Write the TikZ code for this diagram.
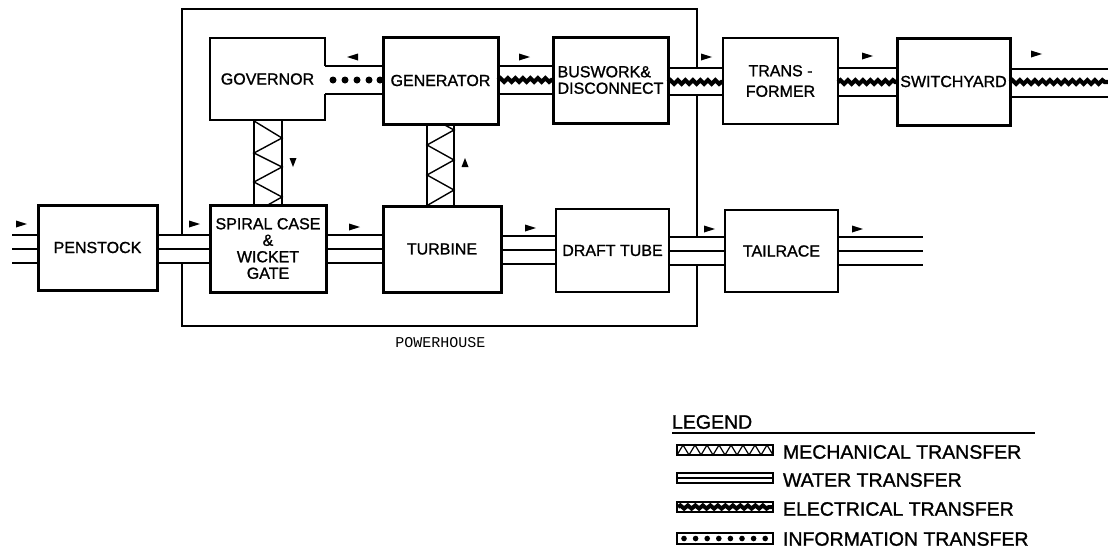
\documentclass[tikz,border=0pt]{standalone}
\usepackage{fontspec}
\setmainfont{Liberation Sans}[BoldFont={Liberation Sans}, BoldFeatures={FakeBold=1.2}]
\newfontfamily\phfont{Liberation Mono}
\usetikzlibrary{decorations.pathmorphing,backgrounds,calc}
\newcommand{\arR}[2]{\fill (#1,#2) -- ++(-11,-3.5) -- ++(0,7) -- cycle;}
\newcommand{\arL}[2]{\fill (#1,#2) -- ++(11,-3.5) -- ++(0,7) -- cycle;}
\begin{document}
\begin{tikzpicture}[x=1pt,y=-1pt,
  every node/.style={inner sep=0pt, outer sep=0pt, font=\bfseries\fontsize{16}{16.5}\selectfont},
  thinbox/.style={draw, fill=white, line width=1.4pt, align=center},
  midbox/.style={draw, fill=white, line width=2.2pt, align=center},
  thickbox/.style={draw, fill=white, line width=3pt, align=center},
  pipe/.style={line width=1.4pt},
  elec/.style={line width=4.2pt, decorate, decoration={snake, amplitude=1.8pt, segment length=7.5pt}},
  mech/.style={line width=1.4pt},
  legtext/.style={anchor=west, font=\bfseries\fontsize{19.5}{20}\selectfont},
]
\useasboundingbox (0,0) rectangle (1108,552);

% ---------- boxes ----------
\node[fill=white, minimum width=115pt, minimum height=82pt] (gov) at (267.5,79) {GOVERNOR};
\node[thickbox, minimum width=115pt, minimum height=87pt] (gen) at (440.5,80.5) {GENERATOR};
\node[thickbox, minimum width=115pt, minimum height=86pt, align=left] (bus) at (610.5,80) {BUSWORK\&\\DISCONNECT};
\node[midbox, minimum width=115pt, minimum height=86pt] (trans) at (780.5,81) {TRANS -\\[4pt]FORMER};
\node[thickbox, minimum width=113pt, minimum height=87pt] (sw) at (953.5,81.5) {SWITCHYARD};

\node[thickbox, minimum width=119pt, minimum height=85pt] (pen) at (97.5,247.5) {PENSTOCK};
\node[thickbox, minimum width=116pt, minimum height=87pt] (spi) at (268,248.5) {SPIRAL CASE\\\&\\WICKET\\GATE};
\node[thickbox, minimum width=118pt, minimum height=86pt] (turb) at (442,249) {TURBINE};
\node[thinbox, minimum width=113pt, minimum height=83pt] (draft) at (612.5,250.5) {DRAFT TUBE};
\node[thinbox, minimum width=113pt, minimum height=82pt] (tail) at (781.5,251) {TAILRACE};

% governor outline, open toward the generator
\draw[line width=1.4pt] (gov.east |- 0,66) |- (gov.north west) |- (gov.south east) -- (gov.east |- 0,94);

\coordinate (inlet) at (12,249);
\coordinate (outlet) at (923,251);
\coordinate (eout) at (1108,82);

% ---------- powerhouse and channel backgrounds ----------
\begin{scope}[on background layer]
  \draw[line width=1.3pt] (182,9) rectangle (697,326);
  \fill[white] (gov.east |- 0,66) rectangle (gen.west |- 0,94);
  \fill[white] (gen.east |- 0,66) rectangle (bus.west |- 0,94);
  \fill[white] (bus.east |- 0,68) rectangle (trans.west |- 0,95);
  \fill[white] (trans.east |- 0,68) rectangle (sw.west |- 0,96);
  \fill[white] (pen.east |- 0,235) rectangle (spi.west |- 0,263);
  \fill[white] (draft.east |- 0,237) rectangle (tail.west |- 0,265);
\end{scope}

% ---------- information transfer ----------
\draw[pipe] (gov.east |- 0,66) -- (gen.west |- 0,66);
\draw[pipe] (gov.east |- 0,94) -- (gen.west |- 0,94);
\foreach \xx in {333,345,357,369,380} \fill (\xx,80) circle (3.5);

% ---------- electrical transfer ----------
\foreach \a/\b/\ya/\yb/\ym in {gen/bus/66/94/80, bus/trans/68/95/82, trans/sw/68/96/82} {
  \draw[pipe] (\a.east |- 0,\ya) -- (\b.west |- 0,\ya);
  \draw[pipe] (\a.east |- 0,\yb) -- (\b.west |- 0,\yb);
  \draw[elec] (\a.east |- 0,\ym) -- (\b.west |- 0,\ym);
}
\draw[pipe] (sw.east |- 0,69) -- (eout |- 0,69);
\draw[pipe] (sw.east |- 0,97) -- (eout |- 0,97);
\draw[elec] (sw.east |- 0,82) -- (eout);

% ---------- water transfer ----------
\foreach \yy in {235,249,263} {
  \draw[pipe] (inlet |- 0,\yy) -- (pen.west |- 0,\yy);
  \draw[pipe] (pen.east |- 0,\yy) -- (spi.west |- 0,\yy);
  \draw[pipe] (spi.east |- 0,\yy) -- (turb.west |- 0,\yy);
}
\foreach \yy in {236,250,264} \draw[pipe] (turb.east |- 0,\yy) -- (draft.west |- 0,\yy);
\foreach \yy in {237,251,265} {
  \draw[pipe] (draft.east |- 0,\yy) -- (tail.west |- 0,\yy);
  \draw[pipe] (tail.east |- 0,\yy) -- (outlet |- 0,\yy);
}

% ---------- mechanical transfer ----------
\draw[mech] (gov.south -| 254,0) -- (spi.north -| 254,0);
\draw[mech] (gov.south -| 282,0) -- (spi.north -| 282,0);
\draw[mech] (254,121) -- (282,138) -- (254,153) -- (282,167) -- (254,182) -- (282,197) -- (266,206);
\draw[mech] (gen.south -| 427,0) -- (turb.north -| 427,0);
\draw[mech] (gen.south -| 454,0) -- (turb.north -| 454,0);
\draw[mech] (443,124) -- (454,130) -- (427,145) -- (454,160) -- (427,175) -- (454,190) -- (428,205);

% ---------- flow arrows ----------
\arL{347}{57}
\arR{530}{57} \arR{712}{57} \arR{873}{56} \arR{1042}{54}
\arR{27}{224} \arR{200}{224} \arR{360}{227} \arR{536}{228} \arR{715}{229} \arR{863}{229}
\fill (293,167) -- ++(-3.5,-9) -- ++(7,0) -- cycle;
\fill (465,158) -- ++(-3.5,9) -- ++(7,0) -- cycle;

% ---------- powerhouse label ----------
\node[font=\phfont\fontsize{15}{15}\selectfont] (ph) at (440.5,343) {POWERHOUSE};

% ---------- legend ----------
\node[legtext] (leg) at (672,422) {LEGEND};
\coordinate (legend-end) at (1035,433);
\draw[line width=1.3pt] (leg.west |- legend-end) -- (legend-end);

\draw[line width=1.2pt] (677,445) rectangle (773,455);
\draw[line width=1.2pt] (677,455) \foreach \i in {1,...,16} { -- ({677+6*\i},{450+5*cos(180*\i)}) };
\node[legtext] (lmech) at (783,452) {MECHANICAL TRANSFER};

\draw[line width=1.2pt] (677,473) rectangle (773,483);
\draw[line width=1.2pt] (677,478) -- (773,478);
\node[legtext] (lwater) at (783,480) {WATER TRANSFER};

\draw[line width=1.2pt] (677,502) rectangle (773,512);
\draw[line width=4pt, decorate, decoration={snake, amplitude=1.6pt, segment length=7.5pt}] (678,507) -- (772,507);
\node[legtext] (lelec) at (783,509) {ELECTRICAL TRANSFER};

\draw[line width=1.2pt] (677,533) rectangle (773,544);
\foreach \i in {0,...,7} \fill ({684+11.6*\i},538.5) circle (2.8);
\node[legtext] (linfo) at (783,539) {INFORMATION TRANSFER};
\end{tikzpicture}
\end{document}
